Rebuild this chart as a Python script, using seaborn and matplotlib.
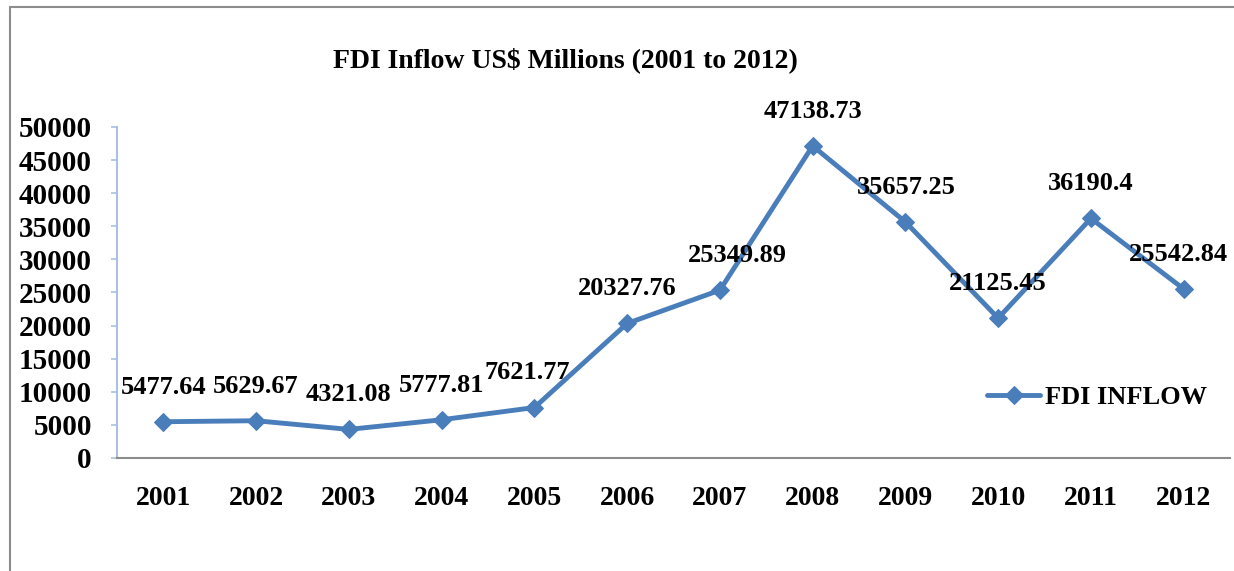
import matplotlib
matplotlib.use("Agg")
import matplotlib.pyplot as plt
import matplotlib.patches as mpatches
import seaborn as sns
import pandas as pd

# data
years = ['2001', '2002', '2003', '2004', '2005', '2006',
         '2007', '2008', '2009', '2010', '2011', '2012']
fdi_inflow = [5477.64, 5629.67, 4321.08, 5777.81, 7621.77, 20327.76,
              25349.89, 47138.73, 35657.25, 21125.45, 36190.4, 25542.84]
labels = ['5477.64', '5629.67', '4321.08', '5777.81', '7621.77', '20327.76',
          '25349.89', '47138.73', '35657.25', '21125.45', '36190.4', '25542.84']

sns.set_style("white")
plt.rcParams['font.family'] = ['Liberation Serif', 'DejaVu Serif']
plt.rcParams['font.weight'] = 'bold'
plt.rcParams['text.color'] = 'black'
plt.rcParams['xtick.labelcolor'] = 'black'
plt.rcParams['ytick.labelcolor'] = 'black'

blue = '#4a7ebb'
df = pd.DataFrame({'pos': range(len(years)), 'fdi': fdi_inflow})

fig = plt.figure(figsize=(12.34, 5.71), dpi=100)
ax = fig.add_axes([0.0948, 0.1979, 0.9020, 0.5797])

sns.lineplot(data=df, x='pos', y='fdi', ax=ax, color=blue, linewidth=3.5,
             marker='D', markersize=9, markeredgecolor=blue, label='FDI INFLOW')

# label nudges in pixels (x, y)
nudge = [(0, 0), (0, 0), (0, 0), (0, 0), (-7, 0), (0, 0),
         (17, 0), (0, 0), (1, 0), (0, 0), (0, 0), (-5, 0)]
for i, (v, t) in enumerate(zip(fdi_inflow, labels)):
    ax.annotate(t, (i, v), xytext=(nudge[i][0] * 0.72, 25 + nudge[i][1] * 0.72),
                textcoords='offset points', ha='center', va='center',
                fontsize=19, fontweight='bold', color='black')

ax.set_xlim(-0.5, len(years) - 0.5)
ax.set_ylim(0, 50000)
ax.set_yticks(range(0, 50001, 5000))
ax.set_xticks(range(len(years)))
ax.set_xticklabels(years)
ax.set_xticks([i - 0.5 for i in range(len(years) + 1)], minor=True)
ax.tick_params(axis='x', which='major', length=0, pad=20, labelsize=20)
ax.tick_params(axis='x', which='minor', length=6, width=1.2, color='#8c8c8c', direction='out')
ax.tick_params(axis='y', length=4, width=1.2, color='#a9c0e4', pad=14, labelsize=21, left=True)
for lab in ax.get_xticklabels() + ax.get_yticklabels():
    lab.set_fontweight('bold')

ax.set_xlabel('')
ax.set_ylabel('')
for s in ['top', 'right']:
    ax.spines[s].set_visible(False)
ax.spines['left'].set_color('#a9c0e4')
ax.spines['left'].set_linewidth(1.5)
ax.spines['bottom'].set_color('#8c8c8c')
ax.spines['bottom'].set_linewidth(1.5)

leg = ax.legend(loc='center left', bbox_to_anchor=(0.782, 0.184), frameon=False,
                prop={'family': 'Liberation Serif', 'weight': 'bold', 'size': 19},
                handlelength=2.0, handletextpad=0.2, borderpad=0, borderaxespad=0)

fig.text(0.458, 0.895, 'FDI Inflow US$ Millions (2001 to 2012)', ha='center', va='center',
         fontsize=20, fontweight='bold')

# outer chart frame
frame = mpatches.Rectangle((10 / 1234, -0.1), 1.1, 0.1 + (1 - 7 / 571), transform=fig.transFigure,
                           fill=False, edgecolor='#8c8c8c', linewidth=1.5)
fig.patches.append(frame)

fig.savefig('out.png', dpi=100)
